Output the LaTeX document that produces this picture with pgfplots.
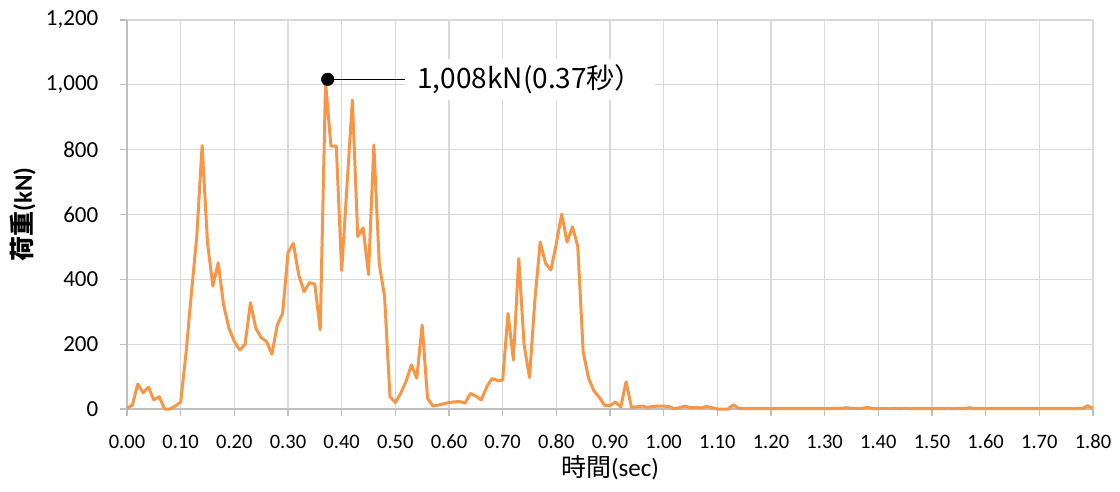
\documentclass[border=0pt]{standalone}
\usepackage{fontspec}
\setmainfont{Carlito}
\newfontfamily\cjk{Noto Sans CJK JP}
\usepackage{pgfplots}
\pgfplotsset{compat=1.18}
\definecolor{lineor}{RGB}{247,150,70}
\definecolor{gridc}{RGB}{217,217,217}
\definecolor{axc}{RGB}{191,191,191}
\pgfplotstableread{
x y
0.00 2
0.01 12
0.02 77
0.03 50
0.04 67
0.05 28
0.06 38
0.07 0
0.08 0
0.09 9
0.10 22
0.11 172
0.12 357
0.13 532
0.14 813
0.15 513
0.16 379
0.17 451
0.18 321
0.19 249
0.20 208
0.21 182
0.22 199
0.23 328
0.24 249
0.25 220
0.26 208
0.27 169
0.28 259
0.29 295
0.30 482
0.31 511
0.32 413
0.33 362
0.34 390
0.35 385
0.36 244
0.37 1008
0.38 811
0.39 811
0.40 427
0.41 690
0.42 953
0.43 532
0.44 559
0.45 415
0.46 814
0.47 449
0.48 346
0.49 38
0.50 20
0.51 48
0.52 86
0.53 136
0.54 95
0.55 259
0.56 33
0.57 9
0.58 12
0.59 16
0.60 20
0.61 22
0.62 23
0.63 18
0.64 48
0.65 40
0.66 28
0.67 67
0.68 94
0.69 88
0.70 89
0.71 295
0.72 151
0.73 464
0.74 197
0.75 97
0.76 336
0.77 515
0.78 449
0.79 429
0.80 511
0.81 601
0.82 515
0.83 562
0.84 501
0.85 177
0.86 95
0.87 56
0.88 36
0.89 11
0.90 10
0.91 22
0.92 6
0.93 84
0.94 5
0.95 7
0.96 9
0.97 5
0.98 8
0.99 9
1.00 9
1.01 7
1.02 1
1.03 4
1.04 9
1.05 4
1.06 5
1.07 3
1.08 8
1.09 4
1.10 0
1.11 0
1.12 0
1.13 13
1.14 2
1.15 1
1.16 1
1.17 1
1.18 1
1.19 1
1.20 1
1.21 1
1.22 1
1.23 1
1.24 1
1.25 1
1.26 1
1.27 1
1.28 1
1.29 1
1.30 1
1.31 1
1.32 2
1.33 2
1.34 4
1.35 2
1.36 1
1.37 2
1.38 5
1.39 1
1.40 1
1.41 2
1.42 1
1.43 2
1.44 1
1.45 2
1.46 1
1.47 1
1.48 1
1.49 1
1.50 1
1.51 1
1.52 1
1.53 2
1.54 1
1.55 2
1.56 1
1.57 4
1.58 1
1.59 1
1.60 1
1.61 1
1.62 1
1.63 1
1.64 1
1.65 1
1.66 1
1.67 1
1.68 1
1.69 1
1.70 1
1.71 1
1.72 1
1.73 1
1.74 1
1.75 1
1.76 1
1.77 2
1.78 1
1.79 10
1.80 2
}\loaddata
\begin{document}
\begin{tikzpicture}[x=1pt,y=1pt]
\useasboundingbox (0,0) rectangle (1120,491);
\begin{axis}[
  at={(127pt,82pt)}, anchor=south west,
  width=966pt, height=389pt, scale only axis,
  xmin=0, xmax=1.8, ymin=0, ymax=1200,
  clip=false,
  xtick={0,0.1,0.2,0.3,0.4,0.5,0.6,0.7,0.8,0.9,1.0,1.1,1.2,1.3,1.4,1.5,1.6,1.7,1.8},
  ytick={0,200,400,600,800,1000,1200},
  axis x line*=bottom, axis y line*=left,
  axis line style={axc, line width=1.3pt, -},
  tick align=outside, major tick length=6.5pt,
  tick style={axc, line width=1.3pt},
  grid=major, major grid style={gridc, line width=1.3pt},
  scaled ticks=false,
  xticklabel style={inner sep=0pt, yshift=-19pt, text=black, font=\fontsize{20.5}{20.5}\selectfont,
    /pgf/number format/.cd, fixed, fixed zerofill, precision=2, assume math mode=true},
  yticklabel style={inner sep=0pt, xshift=-22pt, text=black, font=\fontsize{23}{23}\selectfont,
    /pgf/number format/.cd, fixed, 1000 sep={,}, assume math mode=true},
  xlabel={{\cjk 時間}(sec)},
  xlabel style={at={(axis description cs:0.5,0)}, anchor=center, yshift=-59pt, font=\fontsize{25}{25}\selectfont},
  ylabel={{\cjk\bfseries 荷重}\textbf{(kN)}},
  ylabel style={at={(axis description cs:0,0.5)}, anchor=center, yshift=104pt, font=\fontsize{25}{25}\selectfont},
]
\addplot[lineor, line width=3pt, line join=round] table[x=x,y=y] {\loaddata};
\addplot[black, line width=0.8pt] coordinates {(0.374,1017) (0.518,1017)}
  node[pos=1, anchor=west, fill=white, inner xsep=12pt, inner ysep=6pt, font=\cjk\fontsize{28}{28}\selectfont] {1,008kN(0.37秒）};
\addplot[only marks, mark=*, mark size=6.3pt, black] coordinates {(0.374,1017)};
\end{axis}
\end{tikzpicture}
\end{document}
